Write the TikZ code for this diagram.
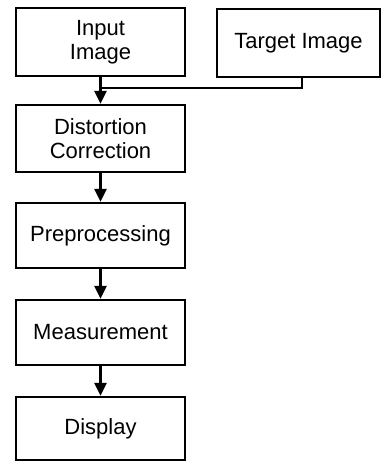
\documentclass[tikz,border=0pt]{standalone}
\usepackage{fontspec}
\setmainfont{Liberation Sans}
\usetikzlibrary{arrows.meta}
\begin{document}
\begin{tikzpicture}[x=1pt,y=-1pt,
  box/.style={draw, line width=2.2pt, minimum width=169pt, inner sep=0pt, align=center, font=\fontsize{22}{24}\selectfont},
  flow/.style={line width=2.4pt, -{Triangle[length=13pt,width=12pt]}},
  link/.style={line width=2.2pt}]
\useasboundingbox (0,0) rectangle (382,462);
\node[box, minimum height=68pt] (input) at (100.5,42) {Input\\Image};
\node[box, minimum width=163pt, minimum height=68pt] (target) at (298.5,43) {Target Image};
\node[box, minimum height=67pt] (dist) at (100.5,138.5) {Distortion\\Correction};
\node[box, minimum height=65pt] (pre) at (100.5,235.5) {Preprocessing};
\node[box, minimum height=65pt] (meas) at (100.5,332.5) {Measurement};
\node[box, minimum height=63pt] (disp) at (100.5,428.5) {Display};
\coordinate (tdrop) at (302,77);
\coordinate (join) at (100.5,88);
\draw[flow] (input) -- (dist);
\draw[link] (tdrop) |- (join);
\draw[flow] (dist) -- (pre);
\draw[flow] (pre) -- (meas);
\draw[flow] (meas) -- (disp);
\end{tikzpicture}
\end{document}
